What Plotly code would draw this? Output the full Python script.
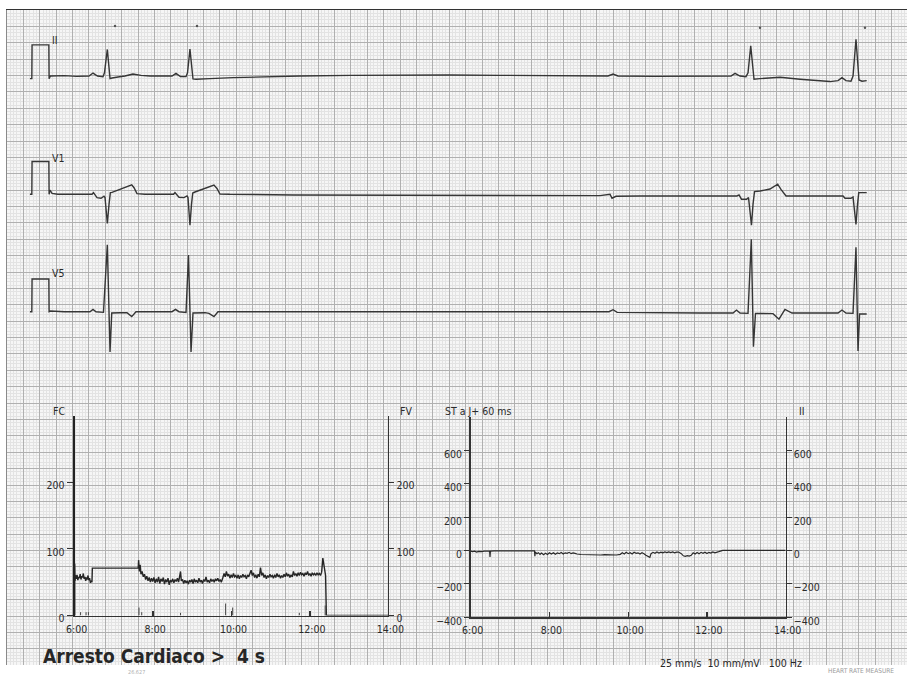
import plotly.graph_objects as go

# ---------------- data ----------------
# ECG leads: (time in s from strip start, amplitude in mV relative to lead baseline)
LEAD_II = [(0.28, -0.08), (0.303, -0.08), (0.306, 0.95), (0.511, 0.95), (0.514, -0.08), (0.53, 0.0),
           (0.70, 0.01), (0.85, -0.01), (1.001, 0.0), (1.050, 0.09), (1.105, 0.0), (1.172, -0.02),
           (1.190, 0.1), (1.225, 0.81), (1.258, -0.08), (1.282, -0.06), (1.355, -0.03), (1.440, 0.0),
           (1.538, 0.06), (1.636, 0.02), (1.746, 0.0), (1.99, 0.01), (2.015, 0.0), (2.063, 0.08),
           (2.118, -0.02), (2.186, -0.02), (2.204, 0.1), (2.234, 0.82), (2.271, -0.09), (2.308, -0.1),
           (2.357, -0.09), (2.479, -0.08), (2.76, -0.05), (3.2, -0.02), (3.578, 0.0), (4.2, 0.02),
           (4.80, 0.03), (5.4, 0.03), (6.02, 0.02), (6.6, 0.01), (7.24, 0.0), (7.338, 0.0), (7.40, 0.06),
           (7.46, 0.0), (7.9, -0.01), (8.46, 0.0), (8.84, 0.0), (8.889, 0.08), (8.95, 0.0), (9.023, -0.02),
           (9.048, 0.1), (9.081, 0.92), (9.121, -0.1), (9.194, -0.08), (9.438, -0.04), (9.683, -0.1),
           (10.049, -0.17), (10.147, -0.14), (10.195, -0.05), (10.244, -0.14), (10.305, -0.16),
           (10.33, 0.0), (10.366, 1.12), (10.403, -0.12), (10.44, -0.16), (10.497, -0.14)]

LEAD_V1 = [(0.28, 0.0), (0.303, 0.0), (0.306, 1.0), (0.511, 1.0), (0.514, 0.0), (0.525, 0.13), (0.55, 0.03),
           (0.62, 0.0), (0.85, 0.0), (1.038, 0.0), (1.056, 0.05), (1.074, 0.0), (1.099, -0.1), (1.148, -0.12),
           (1.184, -0.06), (1.197, -0.1), (1.225, -0.89), (1.246, -0.3), (1.262, 0.05), (1.282, 0.06),
           (1.380, 0.15), (1.465, 0.22), (1.523, 0.29), (1.551, 0.2), (1.587, 0.02), (1.685, 0.0),
           (1.9, 0.0), (2.033, 0.0), (2.051, 0.05), (2.07, 0.0), (2.10, -0.09), (2.161, -0.1),
           (2.198, -0.05), (2.210, -0.1), (2.234, -0.94), (2.253, -0.3), (2.268, 0.04), (2.295, 0.07),
           (2.393, 0.15), (2.479, 0.22), (2.527, 0.28), (2.564, 0.18), (2.60, 0.01), (2.72, 0.0),
           (3.5, -0.02), (4.8, -0.03), (6.0, -0.04), (7.24, -0.04), (7.363, 0.0), (7.387, -0.12),
           (7.436, -0.06), (7.729, -0.05), (8.913, -0.05), (8.938, -0.02), (8.968, -0.15), (9.029, -0.15),
           (9.054, -0.1), (9.09, -0.94), (9.109, -0.3), (9.127, 0.08), (9.194, 0.1), (9.316, 0.16),
           (9.41, 0.31), (9.45, 0.15), (9.512, -0.05), (9.683, -0.05), (10.171, -0.05), (10.208, -0.05),
           (10.232, -0.12), (10.305, -0.12), (10.33, -0.08), (10.366, -0.92), (10.385, -0.3),
           (10.40, 0.05), (10.497, 0.05)]

LEAD_V5 = [(0.28, 0.0), (0.303, 0.0), (0.306, 1.0), (0.511, 1.0), (0.514, 0.0), (0.53, 0.02), (0.7, 0.0),
           (1.013, 0.0), (1.05, 0.07), (1.087, 0.0), (1.178, -0.02), (1.225, 2.04), (1.258, -1.23),
           (1.279, -0.04), (1.38, -0.03), (1.465, -0.03), (1.523, -0.15), (1.575, 0.0), (1.746, 0.0),
           (2.015, 0.0), (2.057, 0.07), (2.10, 0.0), (2.186, -0.02), (2.216, 1.73), (2.247, -1.23),
           (2.271, -0.04), (2.418, -0.03), (2.466, -0.05), (2.527, -0.15), (2.576, 0.0), (2.72, 0.0),
           (4.8, 0.0), (7.35, 0.0), (7.40, 0.06), (7.45, -0.02), (8.46, -0.04), (8.865, -0.04),
           (8.907, 0.05), (8.95, -0.04), (9.048, -0.05), (9.088, 2.21), (9.114, -1.07), (9.139, -0.05),
           (9.353, -0.06), (9.426, -0.23), (9.499, 0.07), (9.585, -0.04), (10.147, -0.04), (10.195, 0.05),
           (10.244, -0.04), (10.33, -0.05), (10.366, 1.97), (10.391, -1.2), (10.41, -0.07), (10.497, -0.07)]

# beat-detection dots printed above lead II
DOT_T = [1.319, 2.320, 9.194, 10.476]
DOT_MV = [1.53, 1.53, 1.47, 1.47]

# Heart-rate trend FC (hour of day, bpm)
FC_H = [6.00, 6.00, 6.01, 6.02, 6.04, 6.06, 6.08, 6.10, 6.12, 6.14, 6.16, 6.18, 6.20, 6.22, 6.24, 6.26,
        6.28, 6.30, 6.32, 6.34, 6.36, 6.38, 6.40, 6.42, 6.44, 6.45, 7.62, 7.63, 7.65, 7.67, 7.69, 7.72,
        7.75, 7.78, 7.81, 7.84, 7.87, 7.90, 7.93, 7.96, 7.99, 8.02, 8.05, 8.08, 8.11, 8.14, 8.17, 8.20,
        8.23, 8.26, 8.29, 8.32, 8.35, 8.38, 8.41, 8.44, 8.47, 8.50, 8.53, 8.56, 8.59, 8.62, 8.65, 8.70,
        8.72, 8.75, 8.78, 8.81, 8.84, 8.87, 8.90, 8.93, 8.96, 8.99, 9.02, 9.05, 9.08, 9.11, 9.14, 9.17,
        9.20, 9.23, 9.26, 9.29, 9.32, 9.35, 9.38, 9.41, 9.44, 9.47, 9.50, 9.53, 9.56, 9.59, 9.62, 9.65,
        9.68, 9.71, 9.74, 9.78, 9.81, 9.84, 9.87, 9.90, 9.93, 9.96, 9.99, 10.02, 10.05, 10.08, 10.11,
        10.14, 10.17, 10.20, 10.23, 10.26, 10.29, 10.32, 10.35, 10.38, 10.41, 10.44, 10.47, 10.50,
        10.53, 10.56, 10.59, 10.62, 10.65, 10.68, 10.71, 10.74, 10.77, 10.80, 10.83, 10.86, 10.89,
        10.92, 10.95, 10.98, 11.01, 11.04, 11.07, 11.10, 11.13, 11.16, 11.19, 11.22, 11.25, 11.28,
        11.31, 11.34, 11.37, 11.40, 11.43, 11.46, 11.49, 11.52, 11.55, 11.58, 11.61, 11.64, 11.67,
        11.70, 11.73, 11.76, 11.79, 11.82, 11.85, 11.88, 11.91, 11.94, 11.97, 12.00, 12.03, 12.06,
        12.09, 12.12, 12.15, 12.18, 12.21, 12.24, 12.27, 12.30, 12.33, 12.36, 12.40, 12.42, 14.00]
FC_BPM = [0, 78, 52, 60, 55, 61, 53, 58, 56, 62, 54, 59, 57, 63, 55, 58,
          52, 57, 54, 60, 53, 56, 49, 52, 50, 71, 71, 83, 66, 76, 62, 66,
          58, 62, 54, 59, 52, 57, 50, 56, 51, 57, 49, 55, 50, 58, 48, 55,
          51, 57, 47, 54, 50, 56, 46, 53, 50, 55, 49, 54, 51, 56, 50, 66,
          52, 54, 48, 53, 49, 52, 47, 53, 50, 54, 48, 55, 50, 53, 49, 56,
          50, 53, 48, 54, 51, 58, 50, 53, 49, 55, 51, 54, 50, 55, 52, 56,
          51, 54, 50, 57, 63, 58, 66, 59, 62, 56, 61, 57, 63, 58, 60,
          56, 61, 55, 60, 57, 62, 58, 60, 55, 61, 58, 63, 68,
          60, 64, 57, 61, 56, 62, 58, 72, 60, 64, 57, 61, 55,
          60, 57, 62, 58, 60, 56, 61, 57, 63, 58, 61, 56, 60,
          57, 62, 58, 64, 59, 62, 57, 61, 58, 66, 60, 63, 59,
          64, 60, 65, 61, 63, 59, 64, 61, 66, 60, 63, 59, 64,
          61, 63, 60, 64, 61, 63, 60, 65, 86, 72, 60, 0, 0]

# small event marks on the FC baseline (hour, height in bpm units)
EVENT_H = [6.15, 6.29, 6.35, 7.64, 7.71, 8.70, 9.85, 10.03, 11.73, 12.39]
EVENT_HT = [5, 5, 5, 12, 5, 4, 18, 12, 4, 15]

# ST at J+60 ms trend (hour of day, µV)
ST_H = [6.00, 6.05, 6.10, 6.15, 6.20, 6.27, 6.35, 6.48, 6.49, 6.50, 6.60, 7.00, 7.40, 7.62, 7.63, 7.64,
        7.68, 7.72, 7.76, 7.80, 7.85, 7.90, 7.95, 8.00, 8.05, 8.10, 8.15, 8.20, 8.25, 8.30, 8.35, 8.40,
        8.45, 8.50, 8.55, 8.60, 8.65, 8.70, 8.80, 8.90, 9.00, 9.10, 9.20, 9.30, 9.40, 9.50, 9.60, 9.70,
        9.80, 9.85, 9.90, 9.95, 10.00, 10.05, 10.10, 10.15, 10.20, 10.25, 10.30, 10.35, 10.40, 10.45,
        10.55, 10.58, 10.63, 10.68, 10.73, 10.78, 10.83, 10.88, 10.93, 10.98, 11.03, 11.08, 11.13,
        11.18, 11.23, 11.28, 11.35, 11.40, 11.45, 11.50, 11.55, 11.60, 11.65, 11.70, 11.75, 11.80,
        11.85, 11.90, 11.95, 12.00, 12.05, 12.10, 12.15, 12.20, 12.30, 12.40, 14.00]
ST_UV = [-5, -8, -5, -10, -6, -8, -5, -4, -40, -5, -3, -2, -2, -3, -35, -10,
         -20, -14, -24, -16, -26, -18, -25, -15, -22, -14, -24, -16, -20, -13, -22, -15,
         -18, -12, -20, -15, -18, -22, -25, -26, -24, -27, -25, -28, -26, -27, -25, -28,
         -24, -15, -22, -12, -20, -14, -22, -12, -18, -15, -22, -14, -20, -30,
         -42, -20, -12, -18, -10, -16, -11, -15, -10, -14, -9, -13, -10,
         -15, -11, -10, -20, -33, -36, -32, -35, -30, -15, -22, -13, -20,
         -12, -18, -11, -19, -12, -16, -10, -15, -8, 0, 0]

TIME_TICKS = [6, 8, 10, 12, 14]
TIME_LABELS = ["6:00", "8:00", "10:00", "12:00", "14:00"]
FC_TICKS = [0, 100, 200]
ST_TICKS = [-400, -200, 0, 200, 400, 600]

# ---------------- layout constants ----------------
W, H = 907, 676
GX0, GX1 = 7, 907          # ECG paper area, pixels
GY0, GY1 = 10, 665
PX_PER_S = 81.9            # 25 mm/s
PX_PER_MV = 32.76          # 10 mm/mV
BASE_II, BASE_V1, BASE_V5 = 76, 194.3, 311.7

FONT = "Liberation Sans Narrow, DejaVu Sans Condensed, Arial Narrow, Liberation Sans, sans-serif"
INK = "#2a2a2a"
TRACE = "#363636"
MAJOR = "#b0b0b0"
MINOR = "#e3e3e3"

def px(xp):
    return xp / W

def py(yp):
    return 1 - yp / H

grid_s = (GX1 - GX0) / PX_PER_S
grid_mv = (GY1 - GY0) / PX_PER_MV

def lead_range(base):
    top = (base - GY0) / PX_PER_MV
    return [top - grid_mv, top]

fig = go.Figure()

# invisible anchor trace for the paper grid subplot
fig.add_trace(go.Scatter(x=[0], y=[0], mode="markers", marker=dict(opacity=0), hoverinfo="skip",
                         xaxis="x", yaxis="y"))

for pts, ya in [(LEAD_II, "y2"), (LEAD_V1, "y3"), (LEAD_V5, "y4")]:
    t = [p[0] for p in pts]
    v = [p[1] for p in pts]
    fig.add_trace(go.Scatter(x=t, y=v, mode="lines", line=dict(color=TRACE, width=1.4),
                             xaxis="x", yaxis=ya, hoverinfo="skip"))

fig.add_trace(go.Scatter(x=DOT_T, y=DOT_MV, mode="markers", marker=dict(color="#555", size=2.5),
                         xaxis="x", yaxis="y2", hoverinfo="skip"))

# FC trend
fig.add_trace(go.Scatter(x=FC_H, y=FC_BPM, mode="lines", line=dict(color="#262626", width=1.4),
                         xaxis="x3", yaxis="y5", hoverinfo="skip"))
ev_x, ev_y = [], []
for h, ht in zip(EVENT_H, EVENT_HT):
    ev_x += [h, h, None]
    ev_y += [0, ht, None]
fig.add_trace(go.Scatter(x=ev_x, y=ev_y, mode="lines", line=dict(color="#444", width=1),
                         xaxis="x3", yaxis="y5", hoverinfo="skip"))
fig.add_trace(go.Scatter(x=[6], y=[0], mode="markers", marker=dict(opacity=0),
                         xaxis="x3", yaxis="y6", hoverinfo="skip"))

# ST trend
fig.add_trace(go.Scatter(x=ST_H, y=ST_UV, mode="lines", line=dict(color="#2a2a2a", width=1.2),
                         xaxis="x4", yaxis="y7", hoverinfo="skip"))
fig.add_trace(go.Scatter(x=[6], y=[0], mode="markers", marker=dict(opacity=0),
                         xaxis="x4", yaxis="y8", hoverinfo="skip"))

tickfont = dict(family=FONT, size=10.5, color=INK)
hidden = dict(visible=False, fixedrange=True)

fig.update_layout(
    template="none",
    width=W, height=H, margin=dict(l=0, r=0, t=0, b=0, pad=0), autosize=False,
    paper_bgcolor="white", plot_bgcolor="rgba(0,0,0,0)", showlegend=False,
    xaxis=dict(domain=[px(GX0), px(GX1)], range=[0, grid_s], tick0=0, dtick=0.2,
               showgrid=True, gridcolor=MAJOR, gridwidth=1,
               minor=dict(dtick=0.04, showgrid=True, gridcolor=MINOR, gridwidth=1),
               showticklabels=False, ticks="", zeroline=False, automargin=False,
               showline=True, side="top", linecolor="#333", linewidth=1.5, fixedrange=True),
    yaxis=dict(domain=[py(GY1), py(GY0)], range=[grid_mv, 0], tick0=0, dtick=0.5,
               showgrid=True, gridcolor=MAJOR, gridwidth=1,
               minor=dict(dtick=0.1, showgrid=True, gridcolor=MINOR, gridwidth=1),
               showticklabels=False, ticks="", zeroline=False, automargin=False,
               showline=True, linecolor="#8a8a8a", linewidth=1.5, fixedrange=True),
    yaxis2=dict(overlaying="y", range=lead_range(BASE_II), automargin=False, **hidden),
    yaxis3=dict(overlaying="y", range=lead_range(BASE_V1), automargin=False, **hidden),
    yaxis4=dict(overlaying="y", range=lead_range(BASE_V5), automargin=False, **hidden),
    # FC panel
    xaxis3=dict(domain=[px(74.7), px(388.3)], range=[6, 14], anchor="y5",
                tickvals=TIME_TICKS, ticktext=TIME_LABELS, ticks="inside", ticklen=5,
                tickcolor="#333", tickwidth=1.3, tickfont=tickfont, ticklabelshift=2,
                ticklabelstandoff=3, automargin=False,
                showgrid=False, zeroline=False, showline=True, linecolor="#333", linewidth=1.5,
                fixedrange=True),
    yaxis5=dict(domain=[py(615.5), py(415.5)], range=[0, 300], anchor="x3",
                tickvals=FC_TICKS, ticks="outside", ticklen=6, tickcolor="#333", tickwidth=1,
                tickfont=tickfont, ticklabelshift=3, showgrid=False, zeroline=False, automargin=False,
                showline=True, linecolor="#222", linewidth=2, fixedrange=True),
    yaxis6=dict(overlaying="y5", side="right", anchor="x3", range=[0, 300],
                tickvals=FC_TICKS, ticks="outside", ticklen=5, tickcolor="#333", tickwidth=1,
                tickfont=tickfont, ticklabelshift=3, showgrid=False, zeroline=False, automargin=False,
                showline=True, linecolor="#333", linewidth=1, fixedrange=True),
    # ST panel
    xaxis4=dict(domain=[px(470.7), px(785.7)], range=[6, 14], anchor="y7",
                tickvals=TIME_TICKS, ticktext=TIME_LABELS, ticks="inside", ticklen=5,
                tickcolor="#333", tickwidth=1.3, tickfont=tickfont, ticklabelshift=2,
                ticklabelstandoff=3, automargin=False,
                showgrid=False, zeroline=False, showline=True, linecolor="#333", linewidth=1.5,
                fixedrange=True),
    yaxis7=dict(domain=[py(617), py(417)], range=[-400, 800], anchor="x4",
                tickvals=ST_TICKS, ticks="outside", ticklen=5, tickcolor="#333", tickwidth=1,
                tickfont=tickfont, ticklabelshift=4, showgrid=False, zeroline=False, automargin=False,
                showline=True, linecolor="#333", linewidth=1.5, fixedrange=True),
    yaxis8=dict(overlaying="y7", side="right", anchor="x4", range=[-400, 800],
                tickvals=ST_TICKS, ticks="outside", ticklen=5, tickcolor="#333", tickwidth=1,
                tickfont=tickfont, ticklabelshift=4, showgrid=False, zeroline=False, automargin=False,
                showline=True, linecolor="#333", linewidth=1, fixedrange=True),
)

# paper background tint behind the grid
fig.add_shape(type="rect", xref="x domain", yref="y domain", x0=0, x1=1, y0=0, y1=1,
              fillcolor="#f6f6f6", line=dict(width=0), layer="below")

def label(text, xp, yp, size=10.5, color=INK, anchor="left", bold=False):
    fig.add_annotation(text=f"<b>{text}</b>" if bold else text, x=px(xp), y=py(yp),
                       xref="paper", yref="paper", xanchor=anchor, yanchor="middle",
                       showarrow=False, font=dict(family=FONT, size=size, color=color))

label("II", 50, 40)
label("V1", 50, 158)
label("V5", 50, 273)
label("FC", 51, 411)
label("FV", 398, 411)
label("ST a J+ 60 ms", 443, 411)
label("II", 797, 411)
label("Arresto Cardiaco >\u00a0\u00a04 s", 41, 656, size=19, color="#262626", bold=True)
label("25 mm/s\u00a0\u00a010 mm/mV\u00a0\u00a0\u00a0100 Hz", 658, 663, size=10.5, color="#262626")
label("HEART RATE MEASURE", 826, 671, size=6.5, color="#9a9a9a")
label("26.627", 126, 671.5, size=5.5, color="#b0b0b0")

fig.write_html("out.html", config={"displayModeBar": False, "staticPlot": True},
               post_script="document.body.style.margin='0';document.body.style.padding='0';"
                           "document.body.style.overflow='hidden';")
